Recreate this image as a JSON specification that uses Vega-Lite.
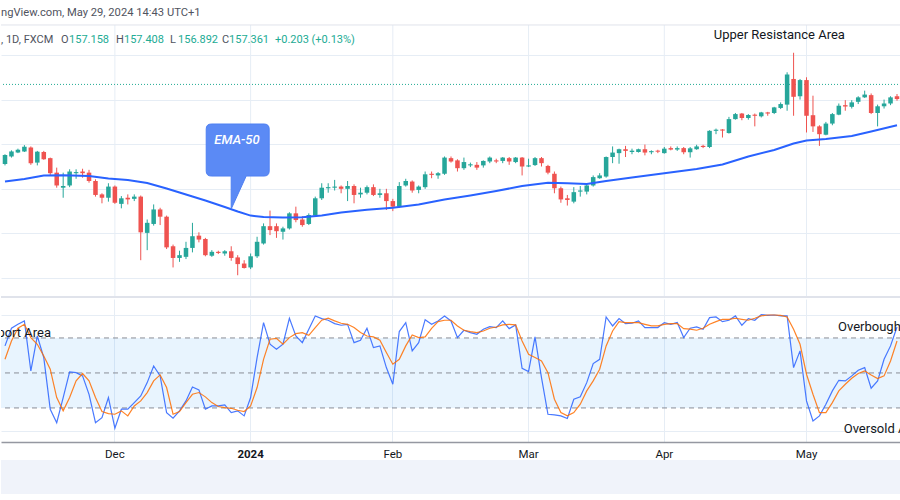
{
"$schema": "https://vega.github.io/schema/vega-lite/v6.json",
"padding": 0,
"background": "white",
"spacing": 0,
"config": {"view": {"stroke": null}, "font": "Roboto", "text": {"font": "Roboto"}, "axis": {"labelFont": "Roboto"}},
"datasets": {
"bars": [
{"d":"2023-11-08","o":150.22,"h":151.1,"l":150.1,"c":151.03,"k":73.2,"s":61.7},
{"d":"2023-11-09","o":150.9,"h":151.45,"l":150.8,"c":151.35,"k":88.3,"s":77.4},
{"d":"2023-11-10","o":151.25,"h":151.6,"l":151.2,"c":151.5,"k":91.7,"s":88.3},
{"d":"2023-11-13","o":151.35,"h":151.92,"l":151.3,"c":151.78,"k":94.6,"s":91.7},
{"d":"2023-11-14","o":151.7,"h":151.8,"l":150.15,"c":150.3,"k":51.7,"s":80.3},
{"d":"2023-11-15","o":150.35,"h":151.4,"l":150.1,"c":151.33,"k":81.7,"s":74.6},
{"d":"2023-11-16","o":151.3,"h":151.4,"l":150.6,"c":150.65,"k":63.2,"s":64.6},
{"d":"2023-11-17","o":150.75,"h":150.8,"l":149.2,"c":149.4,"k":18.9,"s":53.2},
{"d":"2023-11-20","o":149.45,"h":149.9,"l":148.1,"c":148.3,"k":7.4,"s":28.9},
{"d":"2023-11-21","o":148.1,"h":149.45,"l":147.2,"c":148.25,"k":28.9,"s":17.5},
{"d":"2023-11-22","o":148.3,"h":149.75,"l":148.15,"c":149.55,"k":50.9,"s":28.9},
{"d":"2023-11-23","o":149.4,"h":149.75,"l":148.9,"c":149.5,"k":50.3,"s":43.2},
{"d":"2023-11-24","o":149.55,"h":149.8,"l":149.0,"c":149.4,"k":47.5,"s":49.5},
{"d":"2023-11-27","o":149.45,"h":149.7,"l":148.55,"c":148.7,"k":31.7,"s":43.2},
{"d":"2023-11-28","o":148.7,"h":148.85,"l":147.3,"c":147.45,"k":7.4,"s":28.9},
{"d":"2023-11-29","o":147.5,"h":147.6,"l":146.7,"c":147.2,"k":11.7,"s":16.9},
{"d":"2023-11-30","o":147.2,"h":148.5,"l":146.85,"c":148.2,"k":28.9,"s":15.2},
{"d":"2023-12-01","o":148.2,"h":148.3,"l":146.65,"c":146.75,"k":2.6,"s":14.6},
{"d":"2023-12-04","o":146.65,"h":147.35,"l":146.25,"c":147.15,"k":18.9,"s":17.5},
{"d":"2023-12-05","o":147.2,"h":147.5,"l":146.6,"c":147.05,"k":18.9,"s":13.2},
{"d":"2023-12-06","o":147.1,"h":147.5,"l":146.9,"c":147.3,"k":24.6,"s":21.7},
{"d":"2023-12-07","o":147.3,"h":147.4,"l":141.6,"c":144.1,"k":30.3,"s":26.0},
{"d":"2023-12-08","o":144.05,"h":145.25,"l":142.5,"c":144.95,"k":41.7,"s":33.2},
{"d":"2023-12-11","o":144.85,"h":146.6,"l":144.7,"c":146.15,"k":56.0,"s":43.2},
{"d":"2023-12-12","o":146.15,"h":146.3,"l":144.75,"c":145.5,"k":47.5,"s":48.3},
{"d":"2023-12-13","o":145.5,"h":145.6,"l":142.6,"c":142.75,"k":16.0,"s":37.5},
{"d":"2023-12-14","o":142.85,"h":143.0,"l":140.95,"c":141.8,"k":11.2,"s":14.6},
{"d":"2023-12-15","o":141.8,"h":142.45,"l":141.45,"c":142.05,"k":17.5,"s":16.9},
{"d":"2023-12-18","o":141.9,"h":143.25,"l":141.7,"c":142.7,"k":26.0,"s":24.6},
{"d":"2023-12-19","o":142.7,"h":144.95,"l":142.3,"c":143.75,"k":38.0,"s":31.7},
{"d":"2023-12-20","o":143.8,"h":144.1,"l":143.2,"c":143.45,"k":35.5,"s":33.2},
{"d":"2023-12-21","o":143.5,"h":143.6,"l":141.95,"c":142.05,"k":18.9,"s":29.5},
{"d":"2023-12-22","o":142.0,"h":142.5,"l":141.9,"c":142.35,"k":21.7,"s":24.6},
{"d":"2023-12-25","o":142.35,"h":142.45,"l":142.15,"c":142.25,"k":21.7,"s":21.2},
{"d":"2023-12-26","o":142.2,"h":142.5,"l":142.0,"c":142.4,"k":22.6,"s":20.3},
{"d":"2023-12-27","o":142.4,"h":142.85,"l":141.55,"c":141.8,"k":16.0,"s":19.7},
{"d":"2023-12-28","o":141.85,"h":142.05,"l":140.25,"c":141.25,"k":17.5,"s":18.0},
{"d":"2023-12-29","o":141.3,"h":141.6,"l":140.85,"c":140.9,"k":13.2,"s":16.9},
{"d":"2024-01-02","o":140.95,"h":142.2,"l":140.8,"c":141.95,"k":28.9,"s":21.7},
{"d":"2024-01-03","o":141.95,"h":143.7,"l":141.8,"c":143.25,"k":63.2,"s":37.5},
{"d":"2024-01-04","o":143.1,"h":144.9,"l":143.0,"c":144.65,"k":93.2,"s":61.7},
{"d":"2024-01-05","o":144.65,"h":146.05,"l":143.85,"c":144.3,"k":74.6,"s":78.9},
{"d":"2024-01-08","o":144.65,"h":144.9,"l":143.6,"c":144.2,"k":70.3,"s":79.7},
{"d":"2024-01-09","o":144.15,"h":144.6,"l":143.45,"c":144.45,"k":74.6,"s":74.6},
{"d":"2024-01-10","o":144.45,"h":145.9,"l":144.35,"c":145.8,"k":96.9,"s":80.3},
{"d":"2024-01-11","o":145.8,"h":146.4,"l":145.0,"c":145.2,"k":81.7,"s":83.7},
{"d":"2024-01-12","o":145.25,"h":145.55,"l":144.6,"c":144.75,"k":76.0,"s":84.6},
{"d":"2024-01-15","o":144.85,"h":145.8,"l":144.75,"c":145.65,"k":87.5,"s":82.3},
{"d":"2024-01-16","o":145.6,"h":147.3,"l":145.5,"c":147.15,"k":98.9,"s":88.9},
{"d":"2024-01-17","o":147.15,"h":148.5,"l":147.0,"c":148.1,"k":96.6,"s":95.2},
{"d":"2024-01-18","o":148.05,"h":148.5,"l":147.65,"c":148.15,"k":95.2,"s":96.9},
{"d":"2024-01-19","o":148.1,"h":148.8,"l":147.85,"c":148.2,"k":92.3,"s":94.6},
{"d":"2024-01-22","o":148.2,"h":148.3,"l":147.6,"c":148.0,"k":90.9,"s":92.6},
{"d":"2024-01-23","o":148.0,"h":148.7,"l":146.9,"c":148.25,"k":91.7,"s":91.7},
{"d":"2024-01-24","o":148.25,"h":148.4,"l":146.7,"c":147.45,"k":76.0,"s":88.9},
{"d":"2024-01-25","o":147.5,"h":148.1,"l":147.2,"c":147.65,"k":78.0,"s":84.6},
{"d":"2024-01-26","o":147.65,"h":148.3,"l":147.5,"c":148.15,"k":88.3,"s":81.7},
{"d":"2024-01-29","o":148.15,"h":148.4,"l":147.35,"c":147.45,"k":71.7,"s":80.9},
{"d":"2024-01-30","o":147.45,"h":148.0,"l":147.2,"c":147.6,"k":73.2,"s":78.0},
{"d":"2024-01-31","o":147.6,"h":148.0,"l":146.1,"c":146.9,"k":54.6,"s":67.5},
{"d":"2024-02-01","o":146.9,"h":147.1,"l":146.0,"c":146.4,"k":40.3,"s":57.5},
{"d":"2024-02-02","o":146.4,"h":148.6,"l":146.3,"c":148.25,"k":85.5,"s":61.7},
{"d":"2024-02-05","o":148.3,"h":148.9,"l":148.2,"c":148.7,"k":93.2,"s":73.2},
{"d":"2024-02-06","o":148.65,"h":148.75,"l":147.65,"c":147.85,"k":68.9,"s":82.6},
{"d":"2024-02-07","o":147.9,"h":148.3,"l":147.6,"c":148.2,"k":76.0,"s":80.3},
{"d":"2024-02-08","o":148.15,"h":149.55,"l":148.0,"c":149.3,"k":95.7,"s":80.9},
{"d":"2024-02-09","o":149.35,"h":149.55,"l":148.95,"c":149.25,"k":91.7,"s":88.3},
{"d":"2024-02-12","o":149.2,"h":149.5,"l":148.9,"c":149.4,"k":94.6,"s":94.0},
{"d":"2024-02-13","o":149.35,"h":150.9,"l":149.25,"c":150.8,"k":98.9,"s":95.2},
{"d":"2024-02-14","o":150.75,"h":150.9,"l":150.35,"c":150.45,"k":94.6,"s":95.2},
{"d":"2024-02-15","o":150.55,"h":150.65,"l":149.55,"c":149.85,"k":80.3,"s":90.3},
{"d":"2024-02-16","o":149.85,"h":150.8,"l":149.7,"c":150.4,"k":86.6,"s":86.6},
{"d":"2024-02-19","o":150.1,"h":150.35,"l":149.95,"c":150.2,"k":84.6,"s":85.5},
{"d":"2024-02-20","o":150.15,"h":150.4,"l":149.7,"c":149.9,"k":83.2,"s":84.6},
{"d":"2024-02-21","o":150.1,"h":150.55,"l":149.9,"c":150.5,"k":87.5,"s":86.0},
{"d":"2024-02-22","o":150.45,"h":150.9,"l":150.3,"c":150.8,"k":89.7,"s":88.3},
{"d":"2024-02-23","o":150.55,"h":150.7,"l":150.3,"c":150.45,"k":88.9,"s":89.4},
{"d":"2024-02-26","o":150.5,"h":150.85,"l":150.3,"c":150.8,"k":94.6,"s":91.2},
{"d":"2024-02-27","o":150.75,"h":150.85,"l":150.15,"c":150.45,"k":88.0,"s":91.7},
{"d":"2024-02-28","o":150.4,"h":150.85,"l":150.3,"c":150.8,"k":91.2,"s":91.2},
{"d":"2024-02-29","o":150.8,"h":150.85,"l":149.2,"c":150.0,"k":54.0,"s":77.4},
{"d":"2024-03-01","o":150.0,"h":150.7,"l":149.95,"c":150.1,"k":51.2,"s":66.0},
{"d":"2024-03-04","o":150.13,"h":150.85,"l":150.05,"c":150.75,"k":80.9,"s":63.2},
{"d":"2024-03-05","o":150.75,"h":150.85,"l":150.0,"c":150.3,"k":46.0,"s":60.3},
{"d":"2024-03-06","o":150.05,"h":150.15,"l":149.3,"c":149.45,"k":14.6,"s":50.3},
{"d":"2024-03-07","o":149.35,"h":149.55,"l":147.6,"c":148.05,"k":14.0,"s":27.5},
{"d":"2024-03-08","o":148.05,"h":148.2,"l":146.75,"c":147.05,"k":13.2,"s":16.0},
{"d":"2024-03-11","o":147.15,"h":147.45,"l":146.5,"c":147.0,"k":10.9,"s":13.2},
{"d":"2024-03-12","o":146.85,"h":148.15,"l":146.7,"c":147.7,"k":27.5,"s":16.0},
{"d":"2024-03-13","o":147.75,"h":148.25,"l":147.3,"c":147.85,"k":29.5,"s":23.2},
{"d":"2024-03-14","o":147.75,"h":148.5,"l":147.5,"c":148.3,"k":41.7,"s":34.6},
{"d":"2024-03-15","o":148.3,"h":149.2,"l":148.2,"c":149.05,"k":58.0,"s":43.2},
{"d":"2024-03-18","o":148.95,"h":149.4,"l":148.9,"c":149.2,"k":61.7,"s":53.2},
{"d":"2024-03-19","o":149.1,"h":150.9,"l":149.0,"c":150.85,"k":98.0,"s":73.2},
{"d":"2024-03-20","o":150.85,"h":151.8,"l":150.3,"c":151.25,"k":90.3,"s":86.0},
{"d":"2024-03-21","o":151.2,"h":151.6,"l":150.25,"c":151.55,"k":96.6,"s":94.0},
{"d":"2024-03-22","o":151.55,"h":151.85,"l":150.85,"c":151.4,"k":92.3,"s":93.2},
{"d":"2024-03-25","o":151.3,"h":151.6,"l":151.1,"c":151.42,"k":92.6,"s":93.2},
{"d":"2024-03-26","o":151.3,"h":151.6,"l":151.25,"c":151.55,"k":94.6,"s":93.2},
{"d":"2024-03-27","o":151.55,"h":151.97,"l":151.0,"c":151.25,"k":88.9,"s":91.7},
{"d":"2024-03-28","o":151.28,"h":151.45,"l":151.1,"c":151.38,"k":88.9,"s":90.3},
{"d":"2024-03-29","o":151.42,"h":151.5,"l":151.2,"c":151.33,"k":88.9,"s":90.3},
{"d":"2024-04-01","o":151.2,"h":151.75,"l":151.15,"c":151.6,"k":93.2,"s":91.7},
{"d":"2024-04-02","o":151.65,"h":151.8,"l":151.45,"c":151.52,"k":91.7,"s":92.3},
{"d":"2024-04-03","o":151.52,"h":151.8,"l":151.4,"c":151.65,"k":93.2,"s":92.3},
{"d":"2024-04-04","o":151.65,"h":151.75,"l":151.1,"c":151.28,"k":80.3,"s":88.0},
{"d":"2024-04-05","o":151.28,"h":151.75,"l":150.8,"c":151.63,"k":88.3,"s":87.5},
{"d":"2024-04-08","o":151.55,"h":151.95,"l":151.5,"c":151.8,"k":89.4,"s":86.6},
{"d":"2024-04-09","o":151.85,"h":151.95,"l":151.65,"c":151.75,"k":87.5,"s":88.3},
{"d":"2024-04-10","o":151.75,"h":153.25,"l":151.65,"c":153.2,"k":97.4,"s":91.7},
{"d":"2024-04-11","o":153.2,"h":153.4,"l":152.9,"c":153.3,"k":98.0,"s":94.0},
{"d":"2024-04-12","o":153.32,"h":153.35,"l":152.6,"c":153.22,"k":94.0,"s":96.0},
{"d":"2024-04-15","o":153.0,"h":154.45,"l":152.95,"c":154.25,"k":95.2,"s":96.0},
{"d":"2024-04-16","o":154.25,"h":154.8,"l":154.2,"c":154.7,"k":98.9,"s":96.9},
{"d":"2024-04-17","o":154.75,"h":154.8,"l":154.15,"c":154.35,"k":90.9,"s":96.0},
{"d":"2024-04-18","o":154.35,"h":154.7,"l":154.2,"c":154.62,"k":96.6,"s":95.2},
{"d":"2024-04-19","o":154.65,"h":154.75,"l":153.6,"c":154.55,"k":95.2,"s":96.9},
{"d":"2024-04-22","o":154.5,"h":154.9,"l":154.4,"c":154.85,"k":100,"s":98.9},
{"d":"2024-04-23","o":154.85,"h":154.9,"l":154.55,"c":154.75,"k":99.4,"s":99.7},
{"d":"2024-04-24","o":154.8,"h":155.35,"l":154.7,"c":155.3,"k":99.7,"s":99.7},
{"d":"2024-04-25","o":155.25,"h":155.75,"l":155.15,"c":155.6,"k":98.9,"s":99.4},
{"d":"2024-04-26","o":155.55,"h":158.45,"l":155.0,"c":158.25,"k":98.9,"s":98.0},
{"d":"2024-04-29","o":157.85,"h":160.2,"l":154.55,"c":156.25,"k":54.6,"s":87.5},
{"d":"2024-04-30","o":156.3,"h":157.85,"l":156.0,"c":157.75,"k":68.9,"s":74.6},
{"d":"2024-05-01","o":157.75,"h":158.0,"l":153.05,"c":154.55,"k":26.0,"s":48.9},
{"d":"2024-05-02","o":154.6,"h":156.35,"l":153.1,"c":153.6,"k":8.9,"s":31.7},
{"d":"2024-05-03","o":153.6,"h":153.7,"l":151.85,"c":152.9,"k":13.2,"s":16.0},
{"d":"2024-05-06","o":152.85,"h":154.0,"l":152.8,"c":153.85,"k":23.2,"s":16.0},
{"d":"2024-05-07","o":153.85,"h":154.8,"l":153.7,"c":154.7,"k":34.6,"s":24.6},
{"d":"2024-05-08","o":154.65,"h":155.65,"l":154.6,"c":155.45,"k":43.7,"s":34.6},
{"d":"2024-05-09","o":155.5,"h":155.95,"l":155.0,"c":155.38,"k":43.2,"s":40.3},
{"d":"2024-05-10","o":155.35,"h":155.95,"l":155.2,"c":155.75,"k":47.5,"s":45.5},
{"d":"2024-05-13","o":155.8,"h":156.3,"l":155.6,"c":156.2,"k":52.3,"s":49.5},
{"d":"2024-05-14","o":156.2,"h":156.8,"l":156.15,"c":156.45,"k":54.6,"s":51.7},
{"d":"2024-05-15","o":156.4,"h":156.55,"l":154.7,"c":154.8,"k":36.9,"s":48.3},
{"d":"2024-05-16","o":154.8,"h":155.55,"l":153.6,"c":155.4,"k":43.2,"s":45.2},
{"d":"2024-05-17","o":155.4,"h":156.0,"l":155.2,"c":155.65,"k":61.7,"s":47.5},
{"d":"2024-05-20","o":155.65,"h":156.3,"l":155.5,"c":156.2,"k":73.2,"s":60.3},
{"d":"2024-05-21","o":156.3,"h":156.5,"l":155.9,"c":156.05,"k":89.4,"s":77.4}
],
"ema": [
{"d":"2023-11-08","v":148.65},{"d":"2023-11-13","v":148.88},{"d":"2023-11-16","v":149.19},{"d":"2023-11-21","v":149.22},{"d":"2023-11-27","v":149.15},{"d":"2023-11-30","v":148.92},{"d":"2023-12-05","v":148.79},{"d":"2023-12-08","v":148.52},{"d":"2023-12-13","v":148.03},{"d":"2023-12-18","v":147.49},{"d":"2023-12-21","v":146.95},{"d":"2023-12-26","v":146.37},{"d":"2023-12-28","v":145.96},{"d":"2024-01-02","v":145.6},{"d":"2024-01-04","v":145.47},{"d":"2024-01-09","v":145.43},{"d":"2024-01-12","v":145.44},{"d":"2024-01-17","v":145.6},{"d":"2024-01-22","v":145.87},{"d":"2024-01-26","v":146.12},{"d":"2024-02-01","v":146.3},{"d":"2024-02-07","v":146.59},{"d":"2024-02-13","v":147.04},{"d":"2024-02-19","v":147.4},{"d":"2024-02-23","v":147.8},{"d":"2024-02-29","v":148.25},{"d":"2024-03-06","v":148.55},{"d":"2024-03-11","v":148.49},{"d":"2024-03-14","v":148.43},{"d":"2024-03-19","v":148.7},{"d":"2024-03-25","v":149.01},{"d":"2024-04-01","v":149.39},{"d":"2024-04-08","v":149.78},{"d":"2024-04-12","v":150.18},{"d":"2024-04-18","v":150.9},{"d":"2024-04-24","v":151.48},{"d":"2024-04-29","v":152.06},{"d":"2024-05-01","v":152.33},{"d":"2024-05-06","v":152.47},{"d":"2024-05-10","v":152.74},{"d":"2024-05-15","v":153.14},{"d":"2024-05-21","v":153.7}
],
"months": [{"d":"2023-12-01"},{"d":"2024-01-02"},{"d":"2024-02-01"},{"d":"2024-03-01"},{"d":"2024-04-01"},{"d":"2024-05-01"}],
"levels": [{"v":80},{"v":50},{"v":20}]
},
"vconcat": [
{
"width": 900, "height": 298,
"layer": [
{"data": {"name": "months"}, "mark": {"type": "rule", "color": "#e6edf5", "strokeWidth": 1},
 "encoding": {"x": {"field": "d", "type": "ordinal", "scale": {"type": "band", "paddingInner": 0.3, "paddingOuter": 0.2688}, "axis": null},
  "y": {"datum": 162.69, "type": "quantitative", "scale": {"domain": [138.21, 164.93], "nice": false, "zero": false}, "axis": {"grid": true, "values": [140,144,148,152,156,160], "labels": false, "ticks": false, "domain": false, "title": null, "gridColor": "#e6edf5"}},
  "y2": {"datum": 138.21}}},
{"data": {"values": [{}]}, "mark": {"type": "rule", "color": "#e0e3eb", "strokeWidth": 1}, "encoding": {"y": {"datum": 162.69}}},
{"data": {"values": [{}]}, "mark": {"type": "rule", "color": "#e0e3eb", "strokeWidth": 2}, "encoding": {"y": {"datum": 138.3}}},
{"data": {"values": [{}]}, "mark": {"type": "rule", "color": "#22ab94", "strokeWidth": 1, "strokeDash": [1, 2]}, "encoding": {"y": {"datum": 157.361}}},
{"data": {"name": "bars"}, "mark": {"type": "rule", "strokeWidth": 1},
 "encoding": {"x": {"field": "d", "type": "ordinal"}, "y": {"field": "l", "type": "quantitative"}, "y2": {"field": "h"},
  "color": {"condition": {"test": "datum.c >= datum.o", "value": "#26a69a"}, "value": "#ef5350"}}},
{"data": {"name": "bars"}, "mark": {"type": "bar"},
 "encoding": {"x": {"field": "d", "type": "ordinal"}, "y": {"field": "o", "type": "quantitative"}, "y2": {"field": "c"},
  "color": {"condition": {"test": "datum.c >= datum.o", "value": "#26a69a"}, "value": "#ef5350"}}},
{"data": {"name": "ema"}, "mark": {"type": "line", "color": "#2962ff", "strokeWidth": 2},
 "encoding": {"x": {"field": "d", "type": "ordinal"}, "y": {"field": "v", "type": "quantitative"}}},
{"data": {"values": [{}]}, "mark": {"type": "point", "shape": "M -0.62 -1 L 0.62 -1 Q 0.741 -1 0.741 -0.88 L 0.741 0.104 Q 0.741 0.224 0.62 0.224 L 0.2 0.224 L -0.153 1 L -0.153 0.224 L -0.62 0.224 Q -0.741 0.224 -0.741 0.104 L -0.741 -0.88 Q -0.741 -1 -0.62 -1 Z", "size": 7225, "filled": true, "fill": "#5b8af5", "stroke": "#4f80f2", "strokeWidth": 1, "opacity": 1},
 "encoding": {"x": {"datum": "2023-12-28", "type": "ordinal"}, "y": {"datum": 150.0}}},
{"data": {"values": [{}]}, "mark": {"type": "text", "text": "EMA-50", "color": "white", "fontSize": 13, "fontStyle": "italic", "fontWeight": 500, "align": "center", "baseline": "middle", "dx": -0.7},
 "encoding": {"x": {"datum": "2023-12-28", "type": "ordinal"}, "y": {"datum": 152.38}}},
{"data": {"values": [{}]}, "mark": {"type": "text", "text": "Upper Resistance Area", "color": "#131722", "fontSize": 13, "align": "left", "baseline": "middle", "dx": -2.3},
 "encoding": {"x": {"datum": "2024-04-11", "type": "ordinal"}, "y": {"datum": 161.79}}},
{"data": {"values": [{}]}, "mark": {"type": "text", "text": "ngView.com, May 29, 2024 14:43 UTC+1", "color": "#50535e", "fontSize": 11.2, "align": "left", "baseline": "middle", "dx": -4},
 "encoding": {"x": {"datum": "2023-11-08", "type": "ordinal"}, "y": {"datum": 163.76}}},
{"data": {"values": [{}]}, "mark": {"type": "text", "text": ", 1D, FXCM", "color": "#50535e", "fontSize": 11, "align": "left", "baseline": "middle", "dx": -4},
 "encoding": {"x": {"datum": "2023-11-08", "type": "ordinal"}, "y": {"datum": 161.34}}},
{"data": {"values": [{}]}, "mark": {"type": "text", "text": "O", "color": "#50535e", "fontSize": 11, "align": "left", "baseline": "middle", "dx": -2.2},
 "encoding": {"x": {"datum": "2023-11-21", "type": "ordinal"}, "y": {"datum": 161.34}}},
{"data": {"values": [{}]}, "mark": {"type": "text", "text": "157.158", "color": "#22ab94", "fontSize": 11, "align": "left", "baseline": "middle", "dx": -0.6},
 "encoding": {"x": {"datum": "2023-11-22", "type": "ordinal"}, "y": {"datum": 161.34}}},
{"data": {"values": [{}]}, "mark": {"type": "text", "text": "H", "color": "#50535e", "fontSize": 11, "align": "left", "baseline": "middle", "dx": 1.1},
 "encoding": {"x": {"datum": "2023-12-01", "type": "ordinal"}, "y": {"datum": 161.34}}},
{"data": {"values": [{}]}, "mark": {"type": "text", "text": "157.408", "color": "#22ab94", "fontSize": 11, "align": "left", "baseline": "middle", "dx": 2.6},
 "encoding": {"x": {"datum": "2023-12-04", "type": "ordinal"}, "y": {"datum": 161.34}}},
{"data": {"values": [{}]}, "mark": {"type": "text", "text": "L", "color": "#50535e", "fontSize": 11, "align": "left", "baseline": "middle", "dx": 3.4},
 "encoding": {"x": {"datum": "2023-12-13", "type": "ordinal"}, "y": {"datum": 161.34}}},
{"data": {"values": [{}]}, "mark": {"type": "text", "text": "156.892", "color": "#22ab94", "fontSize": 11, "align": "left", "baseline": "middle", "dx": -1.5},
 "encoding": {"x": {"datum": "2023-12-15", "type": "ordinal"}, "y": {"datum": 161.34}}},
{"data": {"values": [{}]}, "mark": {"type": "text", "text": "C", "color": "#50535e", "fontSize": 11, "align": "left", "baseline": "middle", "dx": -2.8},
 "encoding": {"x": {"datum": "2023-12-26", "type": "ordinal"}, "y": {"datum": 161.34}}},
{"data": {"values": [{}]}, "mark": {"type": "text", "text": "157.361", "color": "#22ab94", "fontSize": 11, "align": "left", "baseline": "middle", "dx": -2.2},
 "encoding": {"x": {"datum": "2023-12-27", "type": "ordinal"}, "y": {"datum": 161.34}}},
{"data": {"values": [{}]}, "mark": {"type": "text", "text": "+0.203 (+0.13%)", "color": "#22ab94", "fontSize": 11, "align": "left", "baseline": "middle", "dx": -1.5},
 "encoding": {"x": {"datum": "2024-01-08", "type": "ordinal"}, "y": {"datum": 161.34}}}
]
},
{
"width": 900, "height": 143,
"layer": [
{"data": {"values": [{}]}, "mark": {"type": "rect", "color": "#2196f3", "opacity": 0.1},
 "encoding": {"y": {"datum": 80, "type": "quantitative", "scale": {"domain": [-9.2, 113.4], "nice": false, "zero": false}, "axis": {"grid": true, "values": [0, 100], "labels": false, "ticks": false, "domain": false, "title": null, "gridColor": "#e6edf5"}}, "y2": {"datum": 20}}},
{"data": {"name": "levels"}, "mark": {"type": "rule", "color": "#8a8d96", "strokeWidth": 1, "strokeDash": [5, 4]},
 "encoding": {"y": {"field": "v", "type": "quantitative"}}},
{"data": {"name": "bars"}, "mark": {"type": "line", "color": "#2962ff", "strokeWidth": 1.2, "opacity": 0.85},
 "encoding": {"x": {"field": "d", "type": "ordinal", "scale": {"type": "band", "paddingInner": 0.3, "paddingOuter": 0.2688},
   "axis": {"values": ["2023-12-01","2024-01-02","2024-02-01","2024-03-01","2024-04-01","2024-05-01"],
    "labelExpr": "datum.value == '2023-12-01' ? 'Dec' : datum.value == '2024-01-02' ? '2024' : datum.value == '2024-02-01' ? 'Feb' : datum.value == '2024-03-01' ? 'Mar' : datum.value == '2024-04-01' ? 'Apr' : 'May'",
    "grid": true, "gridColor": "#e6edf5", "bandPosition": 0.5, "ticks": false, "tickSize": 0, "labelPadding": 6, "labelFontSize": 11.5, "labelColor": "#131722", "labelAngle": 0, "labelOverlap": false,
    "labelFontWeight": {"condition": {"test": "datum.value == '2024-01-02'", "value": 700}, "value": 400},
    "domainColor": "#9598a1", "domainWidth": 1.5, "title": null}},
  "y": {"field": "k", "type": "quantitative"}}},
{"data": {"name": "bars"}, "mark": {"type": "line", "color": "#ff6d00", "strokeWidth": 1.2, "opacity": 0.85},
 "encoding": {"x": {"field": "d", "type": "ordinal"}, "y": {"field": "s", "type": "quantitative"}}},
{"data": {"values": [{}]}, "mark": {"type": "text", "text": "Support Area", "color": "#131722", "fontSize": 13, "align": "right", "baseline": "middle", "dx": 0.8, "clip": true},
 "encoding": {"x": {"datum": "2023-11-17", "type": "ordinal"}, "y": {"datum": 84.3}}},
{"data": {"values": [{}]}, "mark": {"type": "text", "text": "Overbought Area", "color": "#131722", "fontSize": 13, "align": "left", "baseline": "middle", "dx": -0.8, "clip": true},
 "encoding": {"x": {"datum": "2024-05-08", "type": "ordinal"}, "y": {"datum": 89.4}}},
{"data": {"values": [{}]}, "mark": {"type": "text", "text": "Oversold Area", "color": "#131722", "fontSize": 13, "align": "left", "baseline": "middle", "dx": -1.6, "clip": true},
 "encoding": {"x": {"datum": "2024-05-09", "type": "ordinal"}, "y": {"datum": 2.0}}}
]
},
{
"width": 900, "height": 34,
"view": {"fill": "#f0f3fa", "stroke": null},
"data": {"values": [{}]},
"mark": {"type": "text", "text": ""}
}
]
}
